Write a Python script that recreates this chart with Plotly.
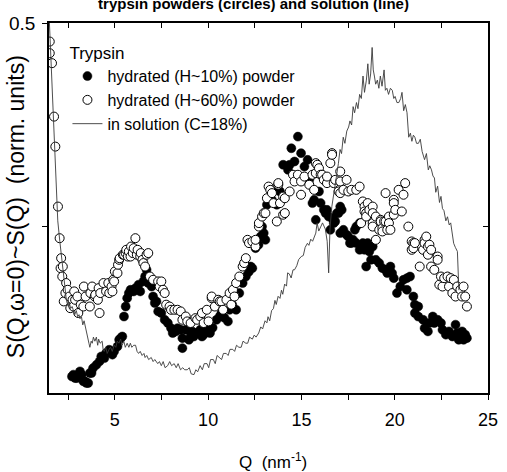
import plotly.graph_objects as go

# ---- data: (Q in nm^-1, S(Q) in normalised units) ----
powder_h10 = [
    (2.70,0.3267),(2.78,0.3276),(2.87,0.3259),(2.96,0.3259),(3.13,0.3292),(3.22,0.3276),(3.31,0.3243),
    (3.40,0.3243),(3.48,0.3235),(3.57,0.3235),(3.66,0.3284),(3.75,0.3284),(3.83,0.3308),(4.01,0.3324),
    (4.18,0.3341),(4.27,0.3365),(4.44,0.3357),(4.53,0.3382),(4.70,0.3398),(4.87,0.3374),(4.96,0.3390),
    (5.14,0.3414),(5.23,0.3447),(5.31,0.3455),(5.40,0.3463),(5.49,0.3561),(5.58,0.3610),(5.66,0.3651),
    (5.75,0.3676),(5.84,0.3692),(6.01,0.3684),(6.10,0.3700),(6.27,0.3717),(6.36,0.3684),(6.53,0.3733),
    (6.62,0.3757),(6.70,0.3790),(6.79,0.3725),(6.97,0.3708),(7.05,0.3659),(7.14,0.3627),(7.23,0.3635),
    (7.32,0.3586),(7.49,0.3578),(7.67,0.3545),(7.84,0.3529),(8.01,0.3504),(8.10,0.3480),(8.19,0.3496),
    (8.27,0.3488),(8.36,0.3504),(8.53,0.3496),(8.62,0.3455),(8.62,0.3406),(8.80,0.3496),(8.97,0.3447),
    (9.06,0.3463),(9.15,0.3488),(9.23,0.3463),(9.41,0.3480),(9.58,0.3496),(9.67,0.3463),(9.76,0.3472),
    (9.93,0.3496),(10.10,0.3480),(10.24,0.3506),(10.45,0.3545),(10.62,0.3561),(10.71,0.3578),(10.87,0.3555),
    (11.06,0.3537),(11.15,0.3594),(11.29,0.3619),(11.50,0.3594),(11.67,0.3676),(11.85,0.3725),(12.02,0.3757),
    (12.18,0.3780),(12.28,0.3806),(12.37,0.3798),(12.54,0.3896),(12.70,0.3913),(12.81,0.3953),(12.89,0.4002),
    (12.98,0.3970),(13.07,0.3937),(13.15,0.4109),(13.42,0.4133),(13.68,0.4109),(13.76,0.4182),(13.85,0.4174),
    (14.02,0.4305),(14.28,0.4280),(14.37,0.4305),(14.46,0.4386),(14.63,0.4321),(14.81,0.4443),(14.98,0.4362),
    (15.16,0.4296),(15.33,0.4329),(15.42,0.4231),(15.59,0.4117),(15.68,0.4133),(15.77,0.4035),(15.94,0.4174),
    (16.03,0.4117),(16.20,0.4084),(16.29,0.4068),(16.37,0.4084),(16.46,0.4051),(16.55,0.3986),(16.64,0.4043),
    (16.73,0.4019),(16.81,0.4027),(16.90,0.4068),(16.99,0.4068),(17.08,0.4100),(17.08,0.3970),(17.16,0.4084),
    (17.25,0.3986),(17.42,0.3962),(17.51,0.3953),(17.60,0.3921),(17.68,0.3921),(17.77,0.3937),(17.86,0.3986),
    (17.94,0.4002),(17.94,0.3921),(18.12,0.4019),(18.12,0.3888),(18.29,0.3921),(18.38,0.3888),(18.47,0.3806),
    (18.55,0.3921),(18.64,0.3880),(18.73,0.3839),(18.82,0.3904),(18.99,0.3839),(19.17,0.3823),(19.34,0.3798),
    (19.51,0.3790),(19.60,0.3774),(19.77,0.3806),(19.86,0.3774),(19.95,0.3749),(20.12,0.3676),(20.30,0.3708),
    (20.47,0.3741),(20.65,0.3749),(20.65,0.3692),(20.82,0.3757),(21.00,0.3659),(21.08,0.3619),(21.26,0.3610),
    (21.08,0.3578),(21.26,0.3561),(21.52,0.3545),(21.60,0.3504),(21.78,0.3488),(21.86,0.3529),(22.04,0.3561),
    (22.12,0.3529),(22.30,0.3545),(22.48,0.3529),(22.56,0.3496),(22.74,0.3472),(22.91,0.3488),(23.09,0.3463),
    (23.26,0.3521),(23.35,0.3480),(23.43,0.3447),(23.61,0.3488),(23.69,0.3447),(23.78,0.3472),(23.87,0.3455),
]

powder_h60 = [
    (1.51,0.4909),(1.51,0.4852),(1.63,0.4803),(1.74,0.4541),(1.81,0.4394),(1.95,0.4100),(2.04,0.3945),
    (2.09,0.3798),(2.12,0.3847),(2.18,0.3757),(2.21,0.3806),(2.26,0.3635),(2.35,0.3676),(2.39,0.3725),
    (2.47,0.3692),(2.56,0.3659),(2.61,0.3602),(2.73,0.3643),(2.78,0.3610),(2.82,0.3684),(2.87,0.3643),
    (2.99,0.3659),(3.04,0.3578),(3.17,0.3619),(3.31,0.3610),(3.34,0.3708),(3.43,0.3659),(3.66,0.3610),
    (3.69,0.3676),(3.78,0.3708),(3.92,0.3659),(3.95,0.3667),(4.09,0.3643),(4.13,0.3700),(4.18,0.3578),
    (4.22,0.3676),(4.39,0.3725),(4.53,0.3684),(4.65,0.3725),(4.70,0.3676),(4.82,0.3708),(4.87,0.3684),
    (4.91,0.3741),(4.96,0.3733),(5.00,0.3782),(5.14,0.3774),(5.17,0.3815),(5.23,0.3839),(5.26,0.3847),
    (5.43,0.3864),(5.49,0.3864),(5.58,0.3872),(5.61,0.3888),(5.70,0.3855),(5.75,0.3880),(5.84,0.3855),
    (5.87,0.3904),(5.96,0.3872),(6.01,0.3896),(6.10,0.3945),(6.18,0.3864),(6.22,0.3888),(6.36,0.3855),
    (6.39,0.3872),(6.48,0.3839),(6.53,0.3823),(6.62,0.3806),(6.70,0.3864),(6.79,0.3872),(6.88,0.3757),
    (7.05,0.3741),(7.32,0.3733),(7.40,0.3708),(7.49,0.3733),(7.58,0.3692),(7.67,0.3676),(7.75,0.3619),
    (7.93,0.3610),(8.01,0.3594),(8.19,0.3594),(8.36,0.3594),(8.53,0.3586),(8.62,0.3545),(8.80,0.3561),
    (8.88,0.3537),(9.06,0.3529),(9.32,0.3553),(9.41,0.3545),(9.58,0.3561),(9.67,0.3578),(9.76,0.3529),
    (9.93,0.3594),(10.02,0.3537),(10.19,0.3651),(10.19,0.3659),(10.36,0.3610),(10.54,0.3643),(10.62,0.3635),
    (10.71,0.3635),(10.80,0.3594),(10.98,0.3643),(11.15,0.3676),(11.24,0.3619),(11.33,0.3692),(11.41,0.3659),
    (11.50,0.3725),(11.67,0.3757),(11.85,0.3806),(11.93,0.3823),(12.02,0.3847),(12.11,0.3937),(12.19,0.3921),
    (12.37,0.3929),(12.54,0.3904),(12.54,0.3937),(12.72,0.4002),(12.72,0.4019),(12.89,0.4051),(12.98,0.4068),
    (13.07,0.4068),(13.15,0.4141),(13.24,0.4198),(13.33,0.4182),(13.42,0.4166),(13.50,0.4117),(13.68,0.4027),
    (13.76,0.4207),(13.76,0.4215),(13.85,0.4117),(14.02,0.4060),(14.02,0.4149),(14.11,0.4141),(14.11,0.4068),
    (14.37,0.4174),(14.55,0.4256),(14.63,0.4223),(14.81,0.4256),(14.98,0.4223),(14.98,0.4158),(15.16,0.4247),
    (15.42,0.4207),(15.59,0.4256),(15.68,0.4182),(15.77,0.4313),(15.77,0.4264),(15.85,0.4305),(15.94,0.4288),
    (16.03,0.4256),(16.11,0.4256),(16.20,0.4231),(16.37,0.4215),(16.37,0.4247),(16.55,0.4313),(16.64,0.4362),
    (16.64,0.4354),(16.73,0.4215),(16.81,0.4231),(16.99,0.4174),(17.08,0.4272),(17.08,0.4223),(17.08,0.4166),
    (17.25,0.4182),(17.42,0.4231),(17.51,0.4174),(17.68,0.4182),(17.94,0.4182),(18.12,0.4198),(18.20,0.4019),
    (18.29,0.4125),(18.38,0.4100),(18.38,0.4076),(18.47,0.4068),(18.47,0.4051),(18.55,0.4117),(18.64,0.4084),
    (18.82,0.4100),(18.82,0.4068),(18.82,0.4019),(18.82,0.4002),(18.99,0.4051),(18.99,0.3937),(19.17,0.3986),
    (19.25,0.4035),(19.25,0.4027),(19.34,0.3994),(19.34,0.3978),(19.43,0.4027),(19.51,0.4166),(19.51,0.4027),
    (19.60,0.3986),(19.69,0.4051),(19.69,0.4019),(19.77,0.3986),(19.95,0.4133),(19.95,0.4117),(19.95,0.4060),
    (20.03,0.4084),(20.21,0.4182),(20.38,0.4076),(20.47,0.4158),(20.56,0.4215),(20.73,0.4002),(20.91,0.3929),
    (20.91,0.3888),(21.00,0.3921),(21.00,0.3896),(21.08,0.3921),(21.34,0.3806),(21.52,0.3888),(21.60,0.3937),
    (21.60,0.3921),(21.69,0.3953),(21.78,0.3904),(21.78,0.3864),(21.86,0.3913),(21.95,0.3888),(21.95,0.3806),
    (22.12,0.3790),(22.30,0.3855),(22.30,0.3839),(22.39,0.3717),(22.48,0.3757),(22.56,0.3708),(22.65,0.3749),
    (22.83,0.3757),(22.91,0.3708),(23.00,0.3749),(23.09,0.3676),(23.17,0.3741),(23.26,0.3659),(23.35,0.3708),
    (23.52,0.3692),(23.61,0.3659),(23.69,0.3708),(23.78,0.3659),(23.87,0.3610),
]

solution_c18 = [
    (1.47,0.505),(1.60,0.475),(1.69,0.452),(1.81,0.428),(1.94,0.403),(2.05,0.393),(2.12,0.387),(2.21,0.378),
    (2.29,0.372),(2.38,0.366),(2.43,0.363),(2.51,0.361),(2.56,0.363),(2.63,0.360),(2.71,0.361),(2.78,0.359),
    (2.85,0.357),(2.93,0.359),(3.01,0.356),(3.08,0.357),(3.13,0.355),(3.21,0.356),(3.28,0.352),(3.35,0.354),
    (3.43,0.350),(3.49,0.349),(3.55,0.345),(3.61,0.343),(3.66,0.341),(3.73,0.344),(3.79,0.343),(3.85,0.346),
    (3.93,0.344),(4.01,0.346),(4.08,0.342),(4.13,0.345),(4.21,0.343),(4.32,0.344),(4.37,0.340),(4.43,0.339),
    (4.51,0.341),(4.59,0.338),(4.69,0.340),(4.77,0.341),(4.86,0.339),(4.96,0.342),(5.05,0.341),(5.13,0.344),
    (5.22,0.343),(5.31,0.345),(5.39,0.342),(5.48,0.344),(5.56,0.341),(5.66,0.343),(5.75,0.341),(5.83,0.343),
    (5.91,0.341),(6.01,0.342),(6.11,0.342),(6.19,0.339),(6.27,0.338),(6.36,0.339),(6.46,0.337),(6.56,0.338),
    (6.62,0.336),(6.71,0.337),(6.81,0.335),(6.95,0.336),(7.05,0.334),(7.14,0.335),(7.30,0.333),(7.39,0.334),
    (7.49,0.332),(7.59,0.334),(7.69,0.331),(7.83,0.332),(7.94,0.334),(8.04,0.332),(8.18,0.333),(8.29,0.331),
    (8.39,0.333),(8.52,0.330),(8.64,0.331),(8.74,0.330),(8.88,0.330),(8.99,0.331),(9.09,0.328),(9.24,0.3276),
    (9.34,0.330),(9.44,0.329),(9.57,0.332),(9.69,0.330),(9.79,0.333),(9.94,0.333),(10.03,0.331),(10.13,0.335),
    (10.28,0.335),(10.38,0.333),(10.48,0.337),(10.60,0.336),(10.72,0.335),(10.82,0.338),(10.97,0.338),
    (11.07,0.337),(11.17,0.340),(11.32,0.340),(11.42,0.339),(11.52,0.342),(11.65,0.341),(11.77,0.341),
    (11.87,0.344),(12.02,0.343),(12.12,0.343),(12.22,0.346),(12.37,0.345),(12.47,0.347),(12.57,0.346),
    (12.71,0.348),(12.82,0.351),(12.92,0.350),(13.05,0.354),(13.15,0.353),(13.21,0.356),(13.30,0.354),
    (13.40,0.359),(13.50,0.360),(13.58,0.364),(13.65,0.362),(13.75,0.366),(13.85,0.365),(13.93,0.369),
    (14.00,0.367),(14.10,0.372),(14.20,0.371),(14.26,0.3775),(14.35,0.377),(14.45,0.375),(14.55,0.379),
    (14.63,0.379),(14.75,0.381),(14.85,0.384),(14.99,0.3855),(15.10,0.386),(15.20,0.390),(15.32,0.392),
    (15.40,0.391),(15.50,0.394),(15.60,0.393),(15.69,0.395),(15.77,0.397),(15.84,0.402),(15.93,0.398),
    (16.03,0.400),(16.13,0.402),(16.28,0.399),(16.38,0.393),(16.46,0.3775),(16.53,0.399),(16.63,0.410),
    (16.72,0.415),(16.81,0.420),(16.88,0.426),(16.98,0.431),(17.07,0.438),(17.15,0.436),(17.24,0.444),
    (17.33,0.441),(17.43,0.447),(17.53,0.449),(17.60,0.452),(17.69,0.450),(17.77,0.459),(17.85,0.456),
    (17.95,0.461),(18.03,0.458),(18.12,0.465),(18.21,0.463),(18.30,0.474),(18.38,0.466),(18.48,0.472),
    (18.56,0.480),(18.63,0.470),(18.71,0.475),(18.79,0.488),(18.85,0.477),(18.91,0.474),(18.98,0.470),
    (19.07,0.472),(19.15,0.468),(19.23,0.474),(19.32,0.469),(19.43,0.477),(19.50,0.467),(19.58,0.468),
    (19.67,0.465),(19.77,0.468),(19.87,0.467),(19.95,0.463),(20.02,0.464),(20.12,0.461),(20.22,0.461),
    (20.32,0.463),(20.39,0.466),(20.48,0.457),(20.57,0.460),(20.66,0.456),(20.75,0.444),(20.84,0.446),
    (20.92,0.442),(21.00,0.445),(21.08,0.444),(21.17,0.441),(21.27,0.441),(21.37,0.443),(21.47,0.437),
    (21.60,0.433),(21.70,0.436),(21.80,0.428),(21.88,0.430),(21.97,0.428),(22.05,0.425),(22.13,0.424),
    (22.20,0.417),(22.30,0.420),(22.40,0.412),(22.48,0.415),(22.56,0.409),(22.64,0.408),(22.74,0.403),
    (22.83,0.405),(22.92,0.401),(23.00,0.402),(23.08,0.397),(23.16,0.392),(23.25,0.390),(23.36,0.388),
    (23.44,0.369),
]

x_tick_vals = [2.5, 5, 7.5, 10, 12.5, 15, 17.5, 20, 22.5, 25]
x_tick_text = ["", "5", "", "10", "", "15", "", "20", "", "25"]
y_tick_vals = [0.4, 0.5]
y_tick_text = ["", "0.5"]
x_range = [1.47, 25.0]
y_range = [0.3186, 0.5]

names = ["hydrated (H~10%) powder", "hydrated (H~60%) powder", "in solution (C=18%)"]
title_text = "trypsin powders (circles) and solution (line)"

FONT = "Liberation Sans, Arial, sans-serif"

def unzip(pairs):
    return [p[0] for p in pairs], [p[1] for p in pairs]

fig = go.Figure()
bx, by = unzip(powder_h10)
ox, oy = unzip(powder_h60)
lx, ly = unzip(solution_c18)

fig.add_trace(go.Scatter(x=bx, y=by, mode="markers", name=names[0], legendrank=1,
                         marker=dict(symbol="circle", size=9, color="black",
                                     line=dict(color="black", width=0.5))))
fig.add_trace(go.Scatter(x=ox, y=oy, mode="markers", name=names[1], legendrank=2,
                         marker=dict(symbol="circle", size=9, color="white",
                                     line=dict(color="black", width=1))))
fig.add_trace(go.Scatter(x=lx, y=ly, mode="lines", name=names[2], legendrank=3,
                         line=dict(color="#3a3a3a", width=0.9)))
# helper traces so the mirrored (top / right) tick axes are drawn
fig.add_trace(go.Scatter(x=[None], y=[None], xaxis="x2", yaxis="y", showlegend=False, hoverinfo="skip"))
fig.add_trace(go.Scatter(x=[None], y=[None], xaxis="x", yaxis="y2", showlegend=False, hoverinfo="skip"))

tick_common = dict(showgrid=False, zeroline=False, tickcolor="black", tickwidth=1, ticklen=5)
line_common = dict(linecolor="black", linewidth=1.5)

fig.update_layout(
    width=507, height=472,
    margin=dict(l=48, r=9, t=23, b=79),
    paper_bgcolor="white", plot_bgcolor="white",
    font=dict(family=FONT, color="black"),
    showlegend=True,
    title=dict(text="<b>" + title_text + "</b>", x=0.5, xref="container", xanchor="center",
               y=0.982, yref="container", yanchor="bottom",
               font=dict(family=FONT, size=15, color="black")),
    legend=dict(x=0.042, y=0.962, xanchor="left", yanchor="top",
                bgcolor="rgba(0,0,0,0)", borderwidth=0,
                title=dict(text="Trypsin", font=dict(family=FONT, size=17)),
                font=dict(family=FONT, size=16), tracegroupgap=0, itemwidth=30),
    xaxis=dict(range=x_range, tickvals=x_tick_vals, ticktext=x_tick_text, ticks="outside",
               showline=True, mirror=True, ticklabelstandoff=5,
               tickfont=dict(family=FONT, size=18), **tick_common, **line_common),
    xaxis2=dict(range=x_range, overlaying="x", side="top", tickvals=x_tick_vals, ticks="inside",
                showticklabels=False, showline=False, **tick_common),
    yaxis=dict(range=y_range, tickvals=y_tick_vals, ticktext=y_tick_text, ticks="outside",
               showline=True, mirror=True, ticklabelstandoff=3,
               tickfont=dict(family=FONT, size=19), **tick_common, **line_common),
    yaxis2=dict(range=y_range, overlaying="y", side="right", tickvals=[0.4], ticks="inside",
                showticklabels=False, showline=False, **tick_common),
    annotations=[
        dict(text="Q\u00a0 (nm<sup>-1</sup>)", xref="paper", yref="paper", x=0.51, y=-0.185,
             xanchor="center", yanchor="middle", showarrow=False, font=dict(family=FONT, size=17)),
        dict(text="S(Q,\u03c9=0)~S(Q)\u00a0\u00a0(norm. units)", xref="paper", yref="paper",
             x=-0.076, y=0.504, xanchor="center", yanchor="middle", textangle=-90,
             showarrow=False, font=dict(family=FONT, size=23)),
    ],
)

fig.write_html("out.html", config={"displayModeBar": False},
               post_script="document.body.style.margin='0px';")
